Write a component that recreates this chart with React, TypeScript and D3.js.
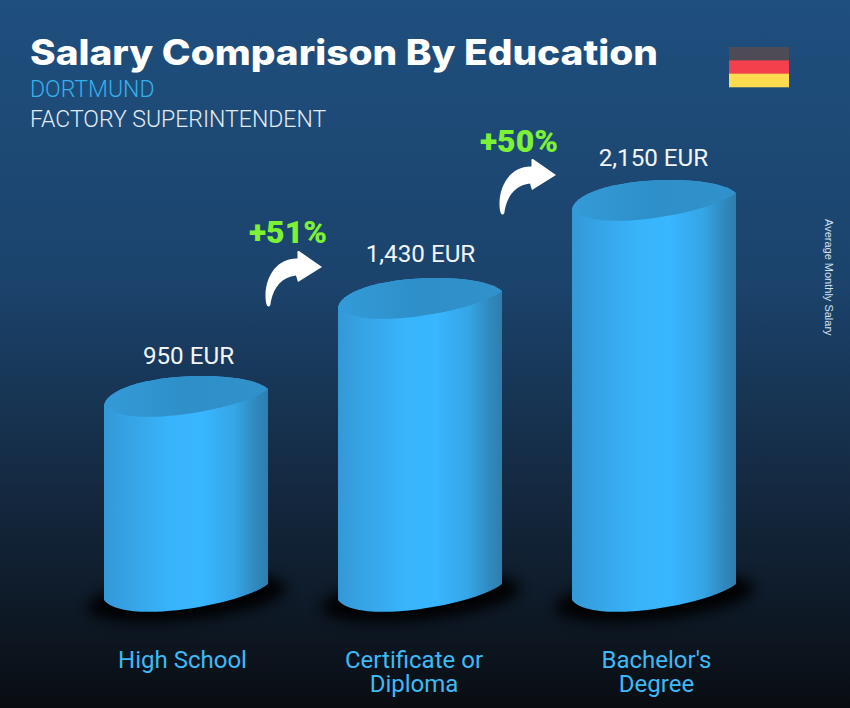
import * as d3 from 'd3';

// Chart values
const categories = ['High School', "Certificate or|Diploma", "Bachelor's|Degree"];
const salaries = [950, 1430, 2150];
const valueLabels = ['950 EUR', '1,430 EUR', '2,150 EUR'];
const gains = ['+51%', '+50%'];
const flagColors = ['#4e4b54', '#f4404c', '#ffdb4f'];

const width = 850;
const height = 708;

const xScale = d3.scaleBand<string>().domain(categories).range([104, 736]).paddingInner(0.299);
// the bars are not to scale in the original, each step up is the same height
const yScale = d3.scaleLinear().domain(salaries).range([397, 299, 201]);
const baseY = 592;

const edge = 8;

// the cap is not a true ellipse: upper left and lower left are fuller
function upperArc(cx: number, cy: number, half: number) {
  return `C${cx - half + 8},${cy - 24} ${cx + half - 24},${cy - 30} ${cx + half},${cy - edge}`;
}

function lowerArc(cx: number, cy: number, half: number) {
  return `C${cx + half - 24},${cy + 12} ${cx - half + 20},${cy + 34} ${cx - half},${cy + edge}`;
}

function capPath(cx: number, cy: number, half: number) {
  return `M${cx - half},${cy + edge} ${upperArc(cx, cy, half)} ${lowerArc(cx, cy, half)} Z`;
}

function cylinderPath(cx: number, top: number, half: number) {
  return [
    `M${cx + half},${top - edge}`,
    `L${cx + half},${baseY - edge}`,
    lowerArc(cx, baseY, half),
    `L${cx - half},${top + edge}`,
    upperArc(cx, top, half),
    'Z',
  ].join(' ');
}

// arrow drawn with its tip at 0,0
const arrowPath =
  'M0,0 L-23,-16 Q-25,-16.5 -24.5,-14 L-24.5,-8.5 C-44,-9 -56,8 -56.5,28 C-56.5,35 -55.5,39.5 -53.5,39.5 C-51.5,39.5 -51.5,37 -51,34 C-48,20 -40,10 -26,8.5 L-24,15 Z';

const labelShift = [-3.5, -6, 2.5];
const valueDx = [2.5, 0.5, -0.5];
const valueDy = [-33, -37, -35];
const arrowDy = [-32, -26];
const gainDx = [-50, -53];
const gainDy = [-24, -23];

export default function App() {
  const band = xScale.bandwidth();
  const half = band / 2;

  return (
    <svg
      width={width}
      height={height}
      viewBox={`0 0 ${width} ${height}`}
      style={{ position: 'absolute', left: 0, top: 0, display: 'block' }}
    >
      <defs>
        <linearGradient id="bg" x1="0" y1="0" x2="0" y2="1">
          <stop offset="0" stopColor="#1f4f7e" />
          <stop offset="0.4" stopColor="#1b436c" />
          <stop offset="0.7" stopColor="#14283f" />
          <stop offset="1" stopColor="#090d12" />
        </linearGradient>
        <linearGradient id="body" x1="0" y1="0" x2="1" y2="0">
          <stop offset="0" stopColor="#3498d6" />
          <stop offset="0.12" stopColor="#36a1e2" />
          <stop offset="0.4" stopColor="#38b4fb" />
          <stop offset="0.6" stopColor="#38b6ff" />
          <stop offset="0.8" stopColor="#35a5e5" />
          <stop offset="0.93" stopColor="#3088bc" />
          <stop offset="1" stopColor="#2e7eae" />
        </linearGradient>
        <linearGradient id="top" x1="0" y1="0" x2="1" y2="0">
          <stop offset="0" stopColor="#339bd8" />
          <stop offset="0.5" stopColor="#2e8fc9" />
          <stop offset="1" stopColor="#3091cb" />
        </linearGradient>
        <filter id="blur" x="-30%" y="-100%" width="160%" height="300%">
          <feGaussianBlur stdDeviation="7" />
        </filter>
      </defs>

      <rect width={width} height={height} fill="url(#bg)" />

      <text x={30} y={65} fontFamily="Inter, sans-serif" fontWeight={800} fontSize={35} fill="#fff" textLength={628} lengthAdjust="spacingAndGlyphs">
        Salary Comparison By Education
      </text>
      <text x={30} y={97} fontFamily="Roboto, sans-serif" fontWeight={300} fontSize={23} fill="#36b0ea">
        DORTMUND
      </text>
      <text x={30} y={127} fontFamily="Roboto, sans-serif" fontWeight={300} fontSize={23} fill="#e4ecf3">
        FACTORY SUPERINTENDENT
      </text>

      {flagColors.map((c, i) => (
        <rect key={c} x={729} y={47 + (i * 40) / 3} width={60} height={40 / 3 + 0.3} fill={c} />
      ))}

      <text
        transform="translate(825,219) rotate(90)"
        fontFamily="Liberation Sans, sans-serif"
        fontSize={11}
        fill="#d5e2ee"
      >
        Average Monthly Salary
      </text>

      {categories.map((cat, i) => {
        const x0 = xScale(cat) as number;
        const cx = x0 + half;
        const top = yScale(salaries[i]);
        return (
          <g key={cat}>
            <ellipse
              cx={cx}
              cy={baseY + 6}
              rx={half + 18}
              ry={22}
              fill="#000"
              opacity={0.95}
              filter="url(#blur)"
              transform={`rotate(-5.86 ${cx} ${baseY})`}
            />
            <path d={cylinderPath(cx, top, half)} fill="url(#body)" />
            <path d={capPath(cx, top, half)} fill="url(#top)" />
            <text
              x={cx + valueDx[i]}
              y={top + valueDy[i]}
              textAnchor="middle"
              fontFamily="Roboto, sans-serif"
              fontSize={24.2}
              fill="#f2f6fa"
            >
              {valueLabels[i]}
            </text>
            <text textAnchor="middle" fontFamily="Roboto, sans-serif" fontSize={24} fill="#3dbaf5">
              {cat.split('|').map((line, j) => (
                <tspan key={line} x={cx + labelShift[i]} y={668 + j * 24}>
                  {line}
                </tspan>
              ))}
            </text>
          </g>
        );
      })}

      {gains.map((g, i) => {
        const x0 = xScale(categories[i + 1]) as number;
        const top = yScale(salaries[i + 1]);
        return (
          <g key={g}>
            <path d={arrowPath} fill="#fff" transform={`translate(${x0 - 16},${top + arrowDy[i]})`} />
            <text
              x={x0 + gainDx[i]}
              y={top + arrowDy[i] + gainDy[i]}
              textAnchor="middle"
              fontFamily="Roboto, sans-serif"
              fontWeight={900}
              fontSize={32}
              fill="#7cf135"
            >
              {g}
            </text>
          </g>
        );
      })}
    </svg>
  );
}
